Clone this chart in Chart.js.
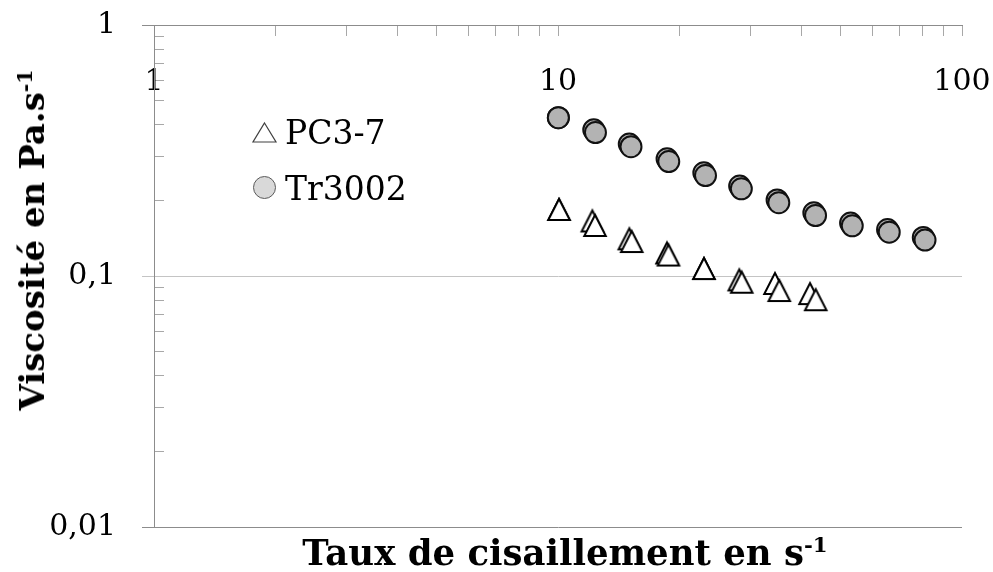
<!DOCTYPE html>
<html><head><meta charset="utf-8">
<script src="https://cdn.jsdelivr.net/npm/chart.js@4"></script>
<style>
html,body{margin:0;padding:0;background:#fff;}
#wrap{position:relative;width:993px;height:572px;overflow:hidden;background:#fff;}
canvas{position:absolute;left:0;top:0;}
.title{position:absolute;font-family:"DejaVu Serif",serif;font-weight:bold;font-size:34px;color:#000;white-space:nowrap;line-height:1;}
.title sup{font-size:0.6em;vertical-align:0.6em;line-height:0;}
#xt{left:565px;top:535px;transform:translateX(-50%);font-size:35.5px;}
#yt{left:32px;top:240px;transform:translate(-50%,-50%) rotate(-90deg);}
</style></head>
<body><div id="wrap"><canvas id="c" width="993" height="572"></canvas>
<div class="title" id="xt">Taux de cisaillement en s<sup>-1</sup></div>
<div class="title" id="yt">Viscosité en Pa.s<sup>-1</sup></div>
</div>
<script>
// ---- data ----
const seriesNames = ['PC3-7', 'Tr3002'];
// PC3-7, two overlapping measurement runs
const pcX1 = [10.06, 12.35, 15.22, 18.77, 22.98, 28.49, 35.3, 43.44];
const pcY1 = [0.1849, 0.1597, 0.1378, 0.1218, 0.1076, 0.0949, 0.0879, 0.0808];
const pcX2 = [10.06, 12.16, 15.02, 18.61, 22.98, 28.1, 34.44, 42.05];
const pcY2 = [0.1849, 0.1664, 0.1413, 0.1241, 0.1076, 0.0969, 0.0938, 0.0855];
// Tr3002, two overlapping measurement runs
const trX1 = [10.02, 12.38, 15.16, 18.8, 23.18, 28.43, 35.2, 43.4, 53.5, 66.05, 81.0];
const trY1 = [0.4272, 0.3729, 0.3274, 0.2858, 0.2514, 0.2226, 0.1959, 0.1742, 0.1585, 0.1494, 0.139];
const trX2 = [10.02, 12.26, 15.01, 18.62, 22.96, 28.16, 34.86, 42.98, 52.99, 65.42, 80.2];
const trY2 = [0.4272, 0.3822, 0.3356, 0.293, 0.2577, 0.2282, 0.2008, 0.1786, 0.1625, 0.1531, 0.1425];
// ticks
const xTicks = [1,2,3,4,5,6,7,8,9,10,20,30,40,50,60,70,80,90,100];
const xTickLabels = {1:'1', 10:'10', 100:'100'};
const yTicks = [0.01,0.02,0.03,0.04,0.05,0.06,0.07,0.08,0.09,0.1,0.2,0.3,0.4,0.5,0.6,0.7,0.8,0.9,1];
const yTickLabels = {0.01:'0,01', 0.1:'0,1', 1:'1'};

const pts = (xs, ys) => xs.map((x, i) => ({x: x, y: ys[i]}));

// triangle marker image
function makeTriangle() {
  const c = document.createElement('canvas');
  c.width = 28; c.height = 28;
  const g = c.getContext('2d');
  g.beginPath();
  g.moveTo(14, 4); g.lineTo(24.75, 25); g.lineTo(3.25, 25); g.closePath();
  g.fillStyle = '#fff'; g.fill();
  g.lineWidth = 2; g.strokeStyle = '#000'; g.stroke();
  return c;
}
const tri = makeTriangle();

const FONT = '"DejaVu Serif", serif';
const AXIS = '#8c8c8c';
const MINOR = '#a8a8a8';

const noPad = s => { s.paddingTop = 0; s.paddingBottom = 0; s.paddingLeft = 0; s.paddingRight = 0; };

const legendPlugin = {
  id: 'customLegend',
  afterDraw(chart) {
    const ctx = chart.ctx, a = chart.chartArea;
    const ix = a.left + 110.5, tx = a.left + 131;
    const r1 = a.top + 107.5, r2 = a.top + 162.5;
    ctx.save();
    // triangle icon
    ctx.beginPath();
    ctx.moveTo(ix, r1 - 9.5); ctx.lineTo(ix + 11.5, r1 + 9.5); ctx.lineTo(ix - 11.5, r1 + 9.5); ctx.closePath();
    ctx.fillStyle = '#fff'; ctx.fill();
    ctx.lineWidth = 1.2; ctx.strokeStyle = '#404040'; ctx.stroke();
    // circle icon
    ctx.beginPath(); ctx.arc(ix, r2, 11, 0, Math.PI * 2);
    ctx.fillStyle = '#d9d9d9'; ctx.fill();
    ctx.lineWidth = 1; ctx.strokeStyle = '#5a5a5a'; ctx.stroke();
    ctx.fillStyle = '#000'; ctx.font = '33px ' + FONT; ctx.textBaseline = 'alphabetic'; ctx.textAlign = 'left';
    ctx.fillText(seriesNames[0], tx, r1 + 11.5);
    ctx.fillText(seriesNames[1], tx, r2 + 12.5);
    ctx.restore();
  }
};

const isMaj = v => yTickLabels[v] !== undefined;

new Chart(document.getElementById('c'), {
  type: 'scatter',
  data: {
    datasets: [
      {label: seriesNames[0], data: pts(pcX1, pcY1), pointStyle: tri, pointRadius: 12, pointHoverRadius: 12, showLine: false},
      {label: seriesNames[0] + ' b', data: pts(pcX2, pcY2), pointStyle: tri, pointRadius: 12, pointHoverRadius: 12, showLine: false},
      {label: seriesNames[1], data: pts(trX1, trY1), pointStyle: 'circle', pointRadius: 10.5, pointHoverRadius: 10.5,
        backgroundColor: '#b3b3b3', borderColor: '#111', borderWidth: 2, pointBorderWidth: 2, showLine: false},
      {label: seriesNames[1] + ' b', data: pts(trX2, trY2), pointStyle: 'circle', pointRadius: 10.5, pointHoverRadius: 10.5,
        backgroundColor: '#b3b3b3', borderColor: '#111', borderWidth: 2, pointBorderWidth: 2, showLine: false}
    ]
  },
  options: {
    responsive: false, animation: false, devicePixelRatio: 1, events: [],
    layout: {padding: {left: 0, top: 25, right: 31, bottom: 45}},
    plugins: {legend: {display: false}, tooltip: {enabled: false}},
    scales: {
      x: {
        type: 'logarithmic', min: 1, max: 100, position: {y: 1}, display: true,
        afterBuildTicks: s => { s.ticks = xTicks.map(v => ({value: v})); },
        afterFit: noPad,
        border: {display: true, color: AXIS, width: 1},
        grid: {drawOnChartArea: false, drawTicks: true, tickLength: 10, tickColor: MINOR, tickWidth: 1},
        ticks: {autoSkip: false, maxRotation: 0, minRotation: 0, padding: 29, color: '#000',
          font: {family: FONT, size: 30}, callback: v => xTickLabels[v] !== undefined ? xTickLabels[v] : ''}
      },
      y: {
        type: 'logarithmic', min: 0.01, max: 1, position: 'left', weight: 10, display: true,
        afterBuildTicks: s => { s.ticks = yTicks.map(v => ({value: v})); },
        afterFit: s => { s.width = 154; noPad(s); },
        border: {display: true, color: AXIS, width: 1},
        grid: {drawOnChartArea: true, drawTicks: true, tickLength: 12, lineWidth: 1, tickWidth: 1,
          color: c => (c.tick && isMaj(c.tick.value)) ? (c.tick.value === 0.1 ? '#c4c4c4' : AXIS) : 'rgba(0,0,0,0)',
          tickColor: c => (c.tick && isMaj(c.tick.value)) ? (c.tick.value === 0.1 ? '#c4c4c4' : AXIS) : 'rgba(0,0,0,0)'},
        ticks: {autoSkip: false, padding: 26, color: '#000', font: {family: FONT, size: 30},
          callback: v => yTickLabels[v] !== undefined ? yTickLabels[v] : ''}
      },
      y2: {
        type: 'logarithmic', min: 0.01, max: 1, position: 'left', weight: 0, display: true,
        afterBuildTicks: s => { s.ticks = yTicks.map(v => ({value: v})); },
        afterFit: s => { s.width = 0; noPad(s); },
        border: {display: false},
        grid: {drawOnChartArea: false, drawTicks: true, tickLength: -10, tickWidth: 1,
          tickColor: c => (c.tick && !isMaj(c.tick.value)) ? MINOR : 'rgba(0,0,0,0)'},
        ticks: {display: false}
      }
    }
  },
  plugins: [legendPlugin]
});
</script>
</body></html>
